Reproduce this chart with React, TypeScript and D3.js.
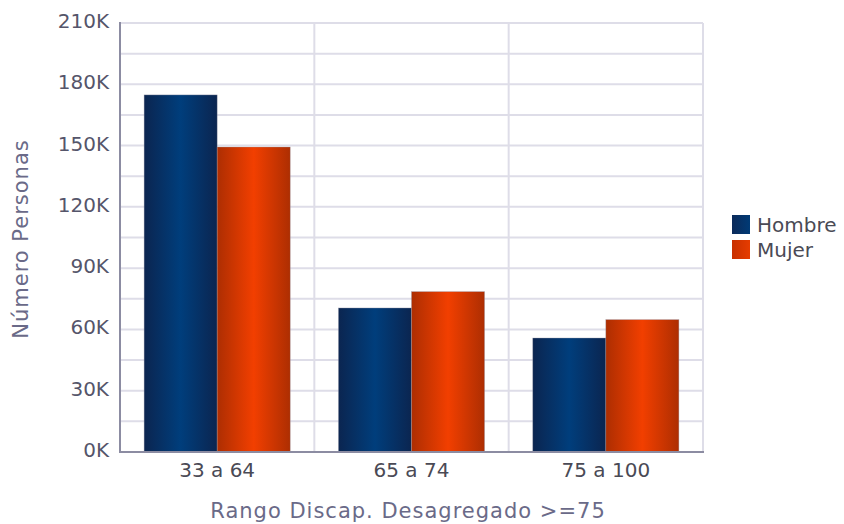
import React from "react";
import * as d3 from "d3";

const categories = ["33 a 64", "65 a 74", "75 a 100"];
const seriesNames = ["Hombre", "Mujer"];
const hombre = [174800, 70500, 55800];
const mujer = [149300, 78500, 64800];
const yTicks = [0, 30000, 60000, 90000, 120000, 150000, 180000, 210000];
const gridTicks = d3.range(0, 210001, 15000);

const W = 844, H = 524;
const M = { left: 120, right: 703, top: 23, bottom: 452 };

export default function App() {
  const x0 = d3.scaleBand().domain(categories).range([M.left, M.right]).paddingInner(0).paddingOuter(0);
  const x1 = d3.scaleBand().domain(seriesNames).range([0, x0.bandwidth()]).paddingOuter(0.33).paddingInner(0);
  const y = d3.scaleLinear().domain([0, 210000]).range([M.bottom, M.top]);
  const data = [hombre, mujer];
  const grads = ["gH", "gM"];
  const font = "'DejaVu Sans', Verdana, sans-serif";
  return (
    <svg width={W} height={H} style={{ position: "absolute", left: 0, top: 0 }}>
      <defs>
        <linearGradient id="gH" x1="0" x2="1" y1="0" y2="0">
          <stop offset="0" stopColor="#0b2550" />
          <stop offset="0.5" stopColor="#003e7c" />
          <stop offset="1" stopColor="#0b2550" />
        </linearGradient>
        <linearGradient id="gM" x1="0" x2="1" y1="0" y2="0">
          <stop offset="0" stopColor="#ad2e02" />
          <stop offset="0.5" stopColor="#f23f00" />
          <stop offset="1" stopColor="#ad2e02" />
        </linearGradient>
        <linearGradient id="lH" x1="0" x2="1">
          <stop offset="0" stopColor="#0b2a5a" />
          <stop offset="1" stopColor="#003a75" />
        </linearGradient>
        <linearGradient id="lM" x1="0" x2="1">
          <stop offset="0" stopColor="#c83000" />
          <stop offset="1" stopColor="#e63c00" />
        </linearGradient>
      </defs>
      <rect width={W} height={H} fill="#fff" />
      {gridTicks.map((t) => (
        <line key={t} x1={M.left} x2={M.right} y1={y(t)} y2={y(t)} stroke="#dedde8" strokeWidth={2} />
      ))}
      {categories.slice(1).map((c) => (
        <line key={c} x1={x0(c)} x2={x0(c)} y1={M.top} y2={M.bottom} stroke="#dedde8" strokeWidth={2} />
      ))}
      <line x1={M.right} x2={M.right} y1={M.top} y2={M.bottom} stroke="#dedde8" strokeWidth={2} />
      {categories.map((c, i) =>
        seriesNames.map((s, j) => {
          const v = data[j][i];
          const bx = (x0(c) as number) + (x1(s) as number);
          return (
            <rect key={c + s} x={bx} y={y(v)} width={x1.bandwidth()} height={M.bottom - y(v)}
              fill={`url(#${grads[j]})`} stroke="#9a9aa8" strokeWidth={0.6} strokeOpacity={0.6} />
          );
        })
      )}
      <line x1={M.left} x2={M.left} y1={M.top - 1} y2={M.bottom + 1} stroke="#8c8ca2" strokeWidth={2} />
      <line x1={M.left - 1} x2={M.right + 1} y1={M.bottom} y2={M.bottom} stroke="#8c8ca2" strokeWidth={2} />
      {yTicks.map((t) => (
        <text key={t} x={109} y={y(t) + 5} textAnchor="end" fontFamily={font} fontSize={20} fill="#55556a">
          {d3.format("d")(t / 1000) + "K"}
        </text>
      ))}
      {categories.map((c) => (
        <text key={c} x={(x0(c) as number) + x0.bandwidth() / 2} y={477} textAnchor="middle" fontFamily={font} fontSize={20} fill="#4a4a55">
          {c}
        </text>
      ))}
      <text x={408} y={518} textAnchor="middle" fontFamily={font} fontSize={21} letterSpacing={1} fill="#6a6a88">
        Rango Discap. Desagregado &gt;=75
      </text>
      <text transform={`translate(28,239) rotate(-90)`} textAnchor="middle" fontFamily={font} fontSize={21} letterSpacing={1} fill="#6a6a88">
        Número Personas
      </text>
      {seriesNames.map((s, j) => (
        <g key={s} transform={`translate(732,${215 + j * 25})`}>
          <rect width={18} height={19} fill={`url(#${j === 0 ? "lH" : "lM"})`} />
          <text x={25} y={17} fontFamily={font} fontSize={20} fill="#4a4a55">{s}</text>
        </g>
      ))}
    </svg>
  );
}
